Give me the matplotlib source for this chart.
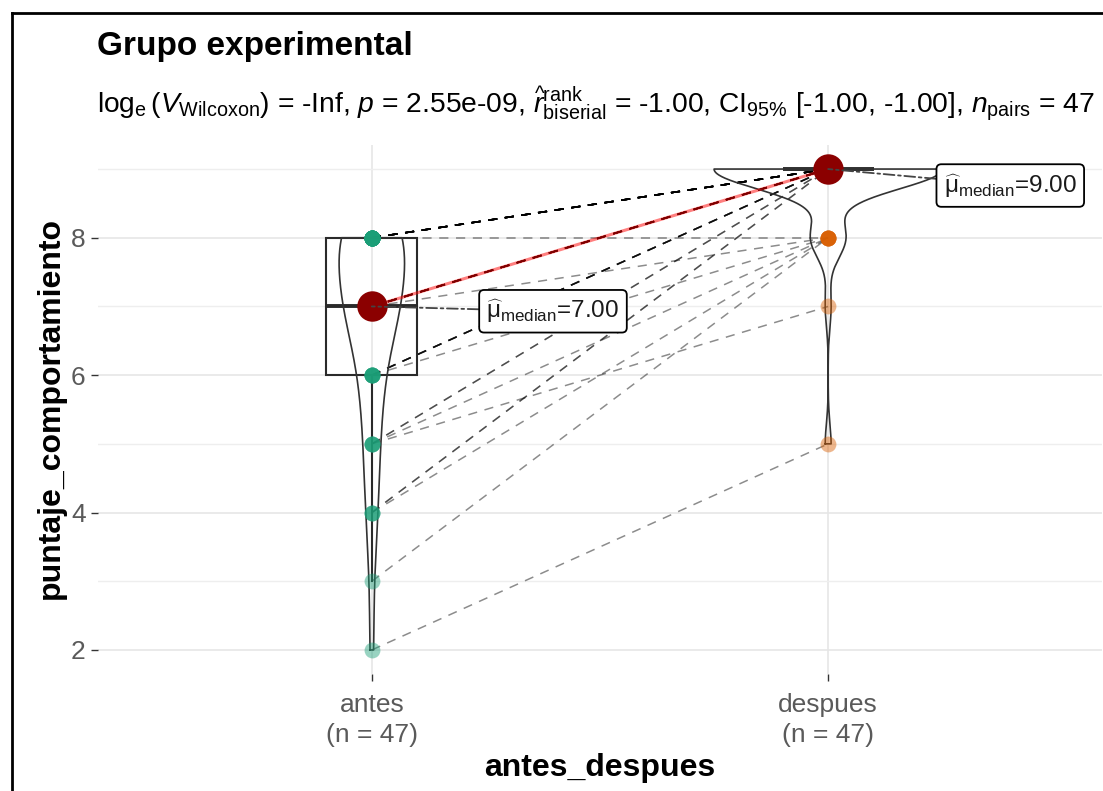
import numpy as np
import matplotlib.pyplot as plt
from matplotlib.lines import Line2D

plt.rcParams['font.family'] = 'Liberation Sans'
plt.rcParams['mathtext.fontset'] = 'custom'
plt.rcParams['mathtext.rm'] = 'Liberation Sans'
plt.rcParams['mathtext.it'] = 'Liberation Sans:italic'
plt.rcParams['mathtext.bf'] = 'Liberation Sans:bold'

# Data: paired scores (antes -> despues) and number of subjects per pair
groups = ['antes', 'despues']
tick_labels = ['antes\n(n = 47)', 'despues\n(n = 47)']
pair_antes = [2, 3, 4, 4, 5, 5, 5, 6, 6, 7, 7, 8, 8]
pair_despues = [5, 8, 8, 9, 7, 8, 9, 8, 9, 8, 9, 8, 9]
pair_count = [1, 1, 1, 2, 1, 1, 2, 1, 5, 1, 13, 1, 17]
group_colors = ['#1B9E77', '#D95F02']

title = 'Grupo experimental'
subtitle = (r'$\log_{\mathrm{e}}(V_{\mathrm{Wilcoxon}})$ = -Inf, $p$ = 2.55e-09, '
            r'$\widehat{r}_{\mathrm{biserial}}^{\mathrm{rank}}$ = -1.00, '
            r'CI$_{95\%}$ [-1.00, -1.00], $n_{\mathrm{pairs}}$ = 47')

antes = np.repeat(pair_antes, pair_count).astype(float)
despues = np.repeat(pair_despues, pair_count).astype(float)
samples = [antes, despues]
medians = [np.median(s) for s in samples]


def bw_nrd0(x):
    hi = np.std(x, ddof=1)
    q75, q25 = np.percentile(x, [75, 25])
    lo = min(hi, (q75 - q25) / 1.34)
    if lo == 0:
        lo = hi
    return 0.9 * lo * len(x) ** -0.2


def kde(x, grid):
    bw = bw_nrd0(x)
    z = (grid[:, None] - x[None, :]) / bw
    return np.exp(-0.5 * z ** 2).sum(axis=1) / (len(x) * bw * np.sqrt(2 * np.pi))


fig = plt.figure(figsize=(11.03, 7.91), dpi=100)
ax = fig.add_axes([98 / 1103, 1 - 674 / 791, 1004 / 1103, 529 / 791])

# violins (scale = area, width 0.5)
grids = [np.linspace(s.min(), s.max(), 512) for s in samples]
dens = [kde(s, g) for s, g in zip(samples, grids)]
dmax = max(d.max() for d in dens)
for i, (g, d) in enumerate(zip(grids, dens)):
    w = 0.25 * d / dmax
    ax.plot(np.concatenate([i - w, (i + w)[::-1], [i - w[0]]]),
            np.concatenate([g, g[::-1], [g[0]]]),
            color='#333333', lw=1.2, zorder=4)

# boxplots
ax.boxplot(samples, positions=[0, 1], widths=0.2, showfliers=False, showcaps=False,
           patch_artist=True,
           boxprops=dict(facecolor='none', edgecolor='#2a2a2a', lw=1.5),
           whiskerprops=dict(color='#2a2a2a', lw=1.5),
           medianprops=dict(color='#2a2a2a', lw=2.8), zorder=3)

# paired lines
for a, d in zip(antes, despues):
    ax.plot([0, 1], [a, d], color='black', alpha=0.45, lw=1.1,
            dashes=(6, 5), zorder=2)

# points
for i, s in enumerate(samples):
    ax.scatter(np.full(len(s), i), s, s=130, color=group_colors[i], alpha=0.45,
               lw=0, zorder=5)

# medians
ax.plot([0, 1], medians, color='red', alpha=0.5, lw=2.2, zorder=6)
ax.scatter([0, 1], medians, s=480, color='#8B0000', lw=0, zorder=7)

label_pos = [(0.397, 6.93), (1.399, 8.76)]
for i, m in enumerate(medians):
    ax.annotate(r'$\widehat{\mathrm{\mu}}_{\mathrm{median}}$' + '={:.2f}'.format(m),
                xy=(i, m), xytext=label_pos[i], ha='center', va='center',
                fontsize=17.5, color='#1a1a1a', zorder=8,
                bbox=dict(boxstyle='round,pad=0.3,rounding_size=0.2', fc='white',
                          ec='black', lw=1.3),
                arrowprops=dict(arrowstyle='-', color='#444444', lw=1.3,
                                linestyle=(0, (6, 2, 1.5, 2)), shrinkA=0, shrinkB=0))

ax.set_xlim(-0.6, 1.6)
ax.set_ylim(1.65, 9.35)
ax.set_xticks([0, 1])
ax.set_xticklabels(tick_labels, fontsize=19, color='#5a5a5a', linespacing=1.3)
ax.set_yticks([2, 4, 6, 8])
ax.set_yticks([3, 5, 7, 9], minor=True)
ax.tick_params(axis='both', which='major', length=5, width=1, color='#333333',
               labelsize=19, labelcolor='#5a5a5a', pad=4)
ax.tick_params(axis='x', which='major', pad=9)
ax.tick_params(axis='y', which='minor', length=0)
ax.grid(True, which='major', color='#e6e6e6', lw=1.2, zorder=0)
ax.grid(True, which='minor', axis='y', color='#eeeeee', lw=1.0, zorder=0)
ax.set_axisbelow(True)
for sp in ax.spines.values():
    sp.set_visible(False)

fig.text(97 / 1103, 1 - 47 / 791, title, fontsize=24, fontweight='bold',
         ha='left', va='center')
fig.text(97 / 1103, 1 - 104 / 791, subtitle, fontsize=20.3, ha='left', va='center')
fig.text(600 / 1103, 1 - 768 / 791, 'antes_despues', fontsize=23,
         fontweight='bold', ha='center', va='center')
fig.text(51 / 1103, 1 - 408 / 791, 'puntaje_comportamiento', fontsize=23,
         fontweight='bold', ha='center', va='center', rotation=90)

# screenshot frame
fig.add_artist(Line2D([11.5 / 1103, 11.5 / 1103], [0, 1 - 13 / 791],
                      transform=fig.transFigure, color='black', lw=2))
fig.add_artist(Line2D([11.5 / 1103, 1], [1 - 13 / 791, 1 - 13 / 791],
                      transform=fig.transFigure, color='black', lw=2))

fig.savefig('out.png', dpi=100)
